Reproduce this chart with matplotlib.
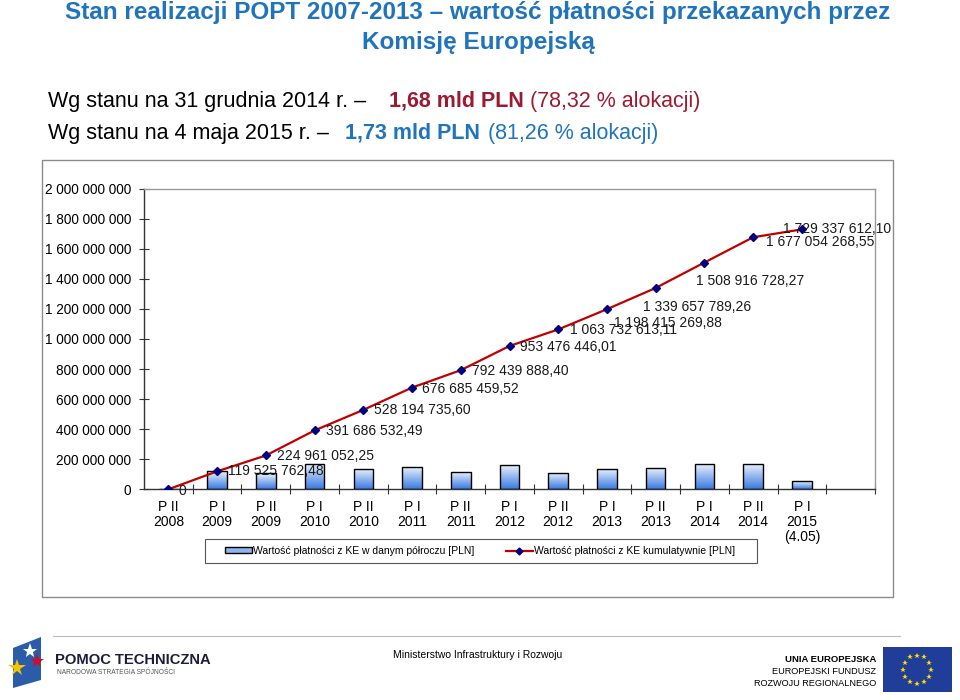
import matplotlib
matplotlib.use("Agg")
import matplotlib.pyplot as plt
from matplotlib.patches import Rectangle, Polygon
from matplotlib.lines import Line2D
import numpy as np

plt.rcParams['font.family'] = ['Liberation Sans', 'DejaVu Sans']

# --- data ---
categories = ["P II\n2008", "P I\n2009", "P II\n2009", "P I\n2010", "P II\n2010",
              "P I\n2011", "P II\n2011", "P I\n2012", "P II\n2012", "P I\n2013",
              "P II\n2013", "P I\n2014", "P II\n2014", "P I\n2015\n(4.05)"]
half_year = [0, 119.5e6, 105.4e6, 166.7e6, 136.5e6, 148.5e6, 115.8e6,
             161.0e6, 110.3e6, 134.7e6, 141.2e6, 169.3e6, 168.1e6, 52.3e6]
cumulative = [0, 119525762.48, 224961052.25, 391686532.49, 528194735.60,
              676685459.52, 792439888.40, 953476446.01, 1063732613.11,
              1198415269.88, 1339657789.26, 1508916728.27, 1677054268.55,
              1729337612.10]
# label offsets in pixels (dx, dy) relative to each point
label_off = [(10, -2), (11, 0), (11, -1), (11, -1), (11, 0), (10, -1), (11, -1),
             (10, -1), (12, -1), (7, -14), (-13, -19), (-8, -18), (13, -5), (-19, 0)]

bar_label = "Wartość płatności z KE w danym półroczu [PLN]"
line_label = "Wartość płatności z KE kumulatywnie [PLN]"

title_blue = '#1f74bb'
dark_red = '#9e1a32'


def pl_num(v, dec=True):
    if v == 0:
        return "0"
    s = f"{v:,.2f}" if dec else f"{v:,.0f}"
    return s.replace(",", " ").replace(".", ",")


fig = plt.figure(figsize=(9.6, 7), dpi=100)

# overlay in pixel coordinates for frame, titles and footer
ov = fig.add_axes([0, 0, 1, 1])
ov.set_xlim(0, 960)
ov.set_ylim(700, 0)
ov.axis('off')
ov.patch.set_alpha(0)

ov.text(478, 13, "Stan realizacji POPT 2007-2013 – wartość płatności przekazanych przez",
        ha='center', va='center', fontsize=17.5, fontweight='bold', color=title_blue)
ov.text(478, 42, "Komisję Europejską", ha='center', va='center', fontsize=17.5,
        fontweight='bold', color=title_blue)

ov.text(48, 101, "Wg stanu na 31 grudnia 2014 r. –", ha='left', va='center', fontsize=15.5)
ov.text(389, 101, "1,68 mld PLN", ha='left', va='center', fontsize=15.5,
        fontweight='bold', color=dark_red)
ov.text(530, 101, "(78,32 % alokacji)", ha='left', va='center', fontsize=15.5, color=dark_red)
ov.text(48, 133, "Wg stanu na 4 maja 2015 r. –", ha='left', va='center', fontsize=15.5)
ov.text(345, 133, "1,73 mld PLN", ha='left', va='center', fontsize=15.5,
        fontweight='bold', color=title_blue)
ov.text(488, 133, "(81,26 % alokacji)", ha='left', va='center', fontsize=15.5, color=title_blue)

# chart frame
ov.add_patch(Rectangle((42, 160), 851, 437, fill=False, edgecolor='#8c8c8c', lw=1))
# legend frame
ov.add_patch(Rectangle((205, 539), 552, 24, fill=False, edgecolor='#555555', lw=0.8))

# footer
ov.plot([53, 900], [636, 636], color='#c9b3b8', lw=0.8)
ov.text(478, 655, "Ministerstwo Infrastruktury i Rozwoju", ha='center', va='center', fontsize=7.5)
ov.add_patch(Polygon([(13, 648), (41, 637), (41, 680), (13, 688)], closed=True,
                     facecolor='#2a5caa', edgecolor='none'))
ov.plot([30], [651], marker='*', color='white', markersize=11, markeredgewidth=0)
ov.plot([37], [661], marker='*', color='#c8102e', markersize=11, markeredgewidth=0)
ov.plot([17], [668], marker='*', color='#f5c400', markersize=13, markeredgewidth=0)
ov.text(55, 660, "POMOC TECHNICZNA", ha='left', va='center', fontsize=10.6,
        fontweight='bold', color='#1d1d3b')
ov.text(57, 673, "NARODOWA STRATEGIA SPÓJNOŚCI", ha='left', va='center', fontsize=4.8,
        color='#555555')
ov.text(876, 659, "UNIA EUROPEJSKA", ha='right', va='center', fontsize=6.8, fontweight='bold')
ov.text(876, 671, "EUROPEJSKI FUNDUSZ", ha='right', va='center', fontsize=6.6)
ov.text(876, 683, "ROZWOJU REGIONALNEGO", ha='right', va='center', fontsize=6.6)
ov.add_patch(Rectangle((883, 647), 69, 45, facecolor='#1f3d99', edgecolor='none'))
ang = np.linspace(0, 2 * np.pi, 13)[:-1]
ov.plot(917 + 14 * np.cos(ang), 669.5 + 14 * np.sin(ang), ls='none', marker='*',
        color='#ffdd00', markersize=4, markeredgewidth=0)

# --- main chart ---
ax = fig.add_axes([144 / 960, 1 - 489.3 / 700, (875 - 144) / 960, (489.3 - 188.7) / 700])
ax.patch.set_alpha(0)
x = np.arange(len(categories))
w = 0.4

grad = np.linspace(0, 1, 100).reshape(-1, 1)
cmap = matplotlib.colors.LinearSegmentedColormap.from_list('b', ['#3a7be2', '#eef4fd'])
bars = ax.bar(x, half_year, width=w, facecolor='none', edgecolor='black', lw=1, zorder=3)
for b in bars:
    if b.get_height() <= 0:
        continue
    im = ax.imshow(grad, cmap=cmap, aspect='auto', origin='lower',
                   extent=[b.get_x(), b.get_x() + b.get_width(), 0, b.get_height()], zorder=2)
    im.set_clip_path(b)

ax.plot(x, cumulative, color='#c00000', lw=1.6, zorder=4)
ax.plot(x, cumulative, ls='none', marker='D', color='#000080', markersize=4.5, zorder=5)

for xi, v, (dx, dy) in zip(x, cumulative, label_off):
    ax.annotate(pl_num(v), (xi, v), xytext=(dx, dy), textcoords='offset pixels',
                ha='left', va='center', fontsize=10, color='#1a1a1a', zorder=6)

ax.set_xlim(-0.5, 14.5)
ax.set_ylim(0, 2e9)
yt = np.arange(0, 2.01e9, 2e8)
ax.set_yticks(yt)
ax.set_yticklabels([pl_num(v, dec=False) for v in yt], fontsize=9.8)
ax.set_xticks(np.arange(0.5, 14.6, 1))
ax.set_xticklabels([])
ax.set_xticks(x, minor=True)
ax.set_xticklabels(categories, minor=True, fontsize=10, linespacing=1.1)
ax.tick_params(axis='y', direction='inout', length=7, width=0.8, pad=5.5, color='#333333')
ax.tick_params(axis='x', which='major', direction='inout', length=7, width=0.8, color='#333333')
ax.tick_params(axis='x', which='minor', length=0, pad=7.5)
for s in ['left', 'bottom']:
    ax.spines[s].set_color('#333333')
    ax.spines[s].set_linewidth(1)
for s in ['top', 'right']:
    ax.spines[s].set_color('#999999')
    ax.spines[s].set_linewidth(1)

handles = [Rectangle((0, 0), 1, 1, facecolor='#8fb4ee', edgecolor='black', lw=1),
           Line2D([], [], color='#c00000', lw=1.6, marker='D', markersize=3.5,
                  markerfacecolor='#000080', markeredgecolor='#000080')]
leg = fig.legend(handles, [bar_label, line_label], loc='center',
                 bbox_to_anchor=(480 / 960, 1 - 551 / 700), ncol=2, fontsize=7.5,
                 handlelength=2.6, handleheight=0.5, handletextpad=0.1,
                 columnspacing=3.0, frameon=False, borderpad=0.7)

fig.savefig("out.png", dpi=100)
